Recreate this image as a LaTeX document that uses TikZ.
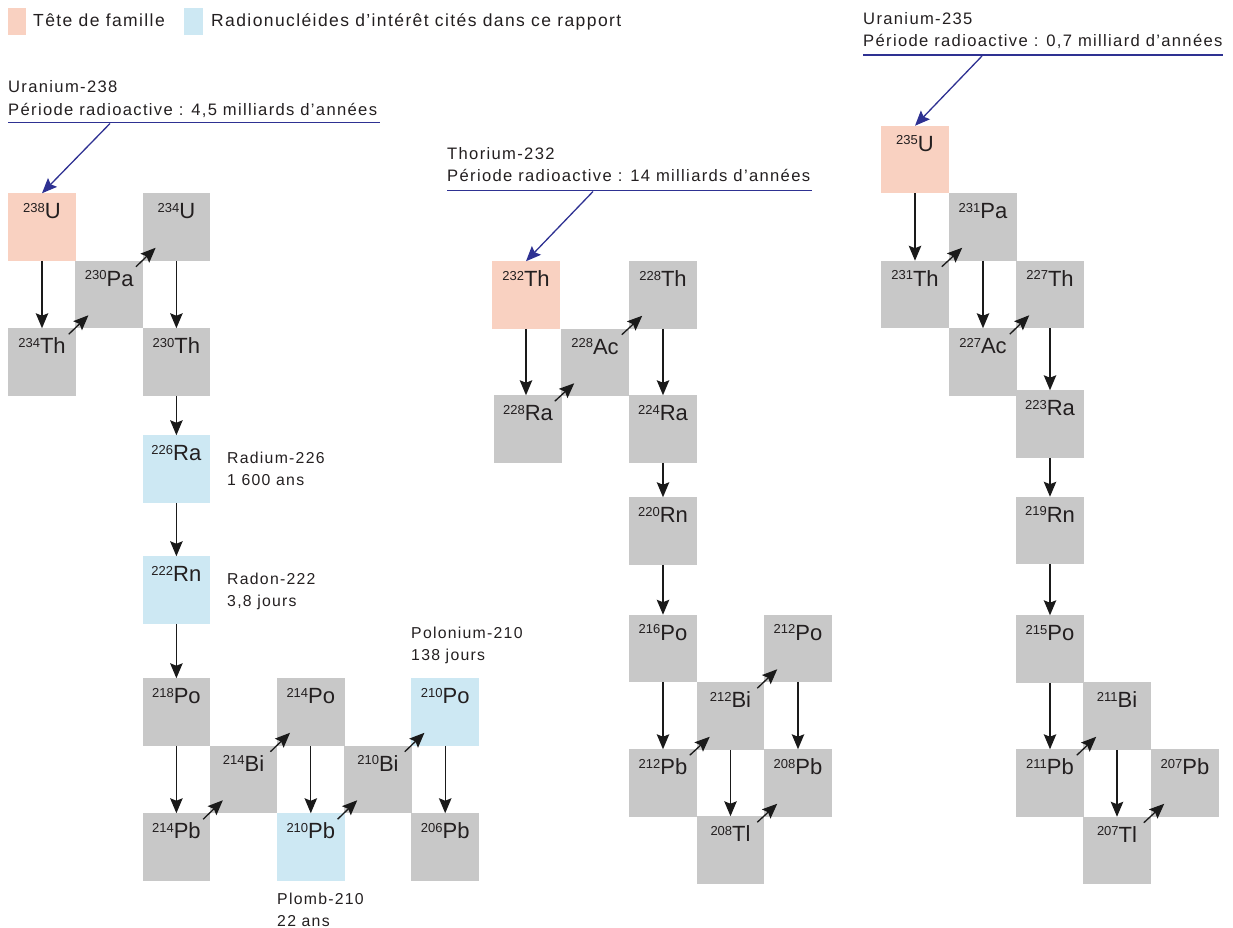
\documentclass[tikz,border=0pt]{standalone}
\usepackage{fontspec}
\setmainfont{Liberation Sans}
\newfontfamily\labfont{Liberation Sans}[LetterSpace=8]
\usetikzlibrary{arrows.meta}
\definecolor{nucgray}{HTML}{C8C8C8}
\definecolor{headpink}{HTML}{F9D1C1}
\definecolor{intblue}{HTML}{CDE8F3}
\definecolor{navy}{HTML}{2E3192}
\definecolor{txt}{HTML}{231F20}
\definecolor{arrblack}{HTML}{1A1A1A}
\newcommand{\nuc}[2]{\raisebox{6.4pt}{\fontsize{13}{13}\selectfont #1}#2}
\newcommand{\arrdown}[2]{\draw[dec] (#1.south) -- (#1.south |- #2.north);}
\newcommand{\arrdiag}[2]{\draw[dec] ([shift={(-7,6)}]#1.north east) -- ([shift={(13,-13)}]#2.south west);}
\tikzset{
  nucbox/.style={minimum width=67.5pt, minimum height=67.5pt, inner sep=0pt, outer sep=0pt,
    text height=17pt, text depth=33.5pt, font=\fontsize{22}{22}\selectfont, text=txt, fill=nucgray},
  headbox/.style={nucbox, fill=headpink},
  intbox/.style={nucbox, fill=intblue},
  dec/.style={-{Stealth[length=15pt,width=12.5pt,inset=2.5pt]}, line width=1.3pt, draw=arrblack},
  ptr/.style={-{Stealth[length=15pt,width=12.5pt,inset=2.5pt]}, line width=1.3pt, draw=navy},
  lab/.style={anchor=base west, inner sep=0pt, font=\labfont\fontsize{15.8}{15.8}\selectfont, text=txt},
  hdr/.style={anchor=base west, inner sep=0pt, font=\labfont\fontsize{16.6}{16.6}\selectfont, text=txt},
  leg/.style={anchor=base west, inner sep=0pt, font=\labfont\fontsize{17.5}{17.5}\selectfont, text=txt},
  uline/.style={line width=1.3pt, draw=navy}
}
\begin{document}
\begin{tikzpicture}[x=1pt,y=-1pt]
\useasboundingbox (0,0) rectangle (1233,928);

% legend
\node[fill=headpink, minimum width=18pt, minimum height=27pt, inner sep=0pt] (legA) at (17,21.5) {};
\node[leg] (legAt) at (33,27) {Tête de famille};
\node[fill=intblue, minimum width=19pt, minimum height=27pt, inner sep=0pt] (legB) at (193.5,21.5) {};
\node[leg] (legBt) at (211,27) {Radionucléides d’intérêt cités dans ce rapport};

% ===== Uranium-238 family =====
\node[hdr] (h238a) at (8,93) {Uranium-238};
\node[hdr] (h238b) at (8,116) {Période radioactive : 4,5 milliards d’années};
\draw[uline] (8,122.5) -- (380,122.5);
\coordinate (a238) at (110,123.5);

\node[headbox] (u238) at (42,227) {\nuc{238}{U}};
\node[nucbox] (pa230) at (109.2,294.5) {\nuc{230}{Pa}};
\node[nucbox] (u234) at (176.4,227) {\nuc{234}{U}};
\node[nucbox] (th234) at (42,362) {\nuc{234}{Th}};
\node[nucbox] (th230) at (176.4,362) {\nuc{230}{Th}};
\node[intbox] (ra226) at (176.4,469) {\nuc{226}{Ra}};
\node[intbox] (rn222) at (176.4,590) {\nuc{222}{Rn}};
\node[nucbox] (po218) at (176.4,712) {\nuc{218}{Po}};
\node[nucbox] (bi214) at (243.6,779.5) {\nuc{214}{Bi}};
\node[nucbox] (po214) at (310.8,712) {\nuc{214}{Po}};
\node[nucbox] (pb214) at (176.4,847) {\nuc{214}{Pb}};
\node[intbox] (pb210) at (310.8,847) {\nuc{210}{Pb}};
\node[nucbox] (bi210) at (378,779.5) {\nuc{210}{Bi}};
\node[intbox] (po210) at (445.2,712) {\nuc{210}{Po}};
\node[nucbox] (pb206) at (445.2,847) {\nuc{206}{Pb}};

\node[lab] (l226a) at (227,463) {Radium-226};
\node[lab] (l226b) at (227,485) {1 600 ans};
\node[lab] (l222a) at (227,584) {Radon-222};
\node[lab] (l222b) at (227,606) {3,8 jours};
\node[lab] (l210a) at (411,638) {Polonium-210};
\node[lab] (l210b) at (411,660) {138 jours};
\node[lab] (l210c) at (277,904) {Plomb-210};
\node[lab] (l210d) at (277,926) {22 ans};

\draw[ptr] (a238) -- (u238.north);
\arrdown{u238}{th234}
\arrdiag{th234}{pa230}
\arrdiag{pa230}{u234}
\arrdown{u234}{th230}
\arrdown{th230}{ra226}
\arrdown{ra226}{rn222}
\arrdown{rn222}{po218}
\arrdown{po218}{pb214}
\arrdiag{pb214}{bi214}
\arrdiag{bi214}{po214}
\arrdown{po214}{pb210}
\arrdiag{pb210}{bi210}
\arrdiag{bi210}{po210}
\arrdown{po210}{pb206}

% ===== Thorium-232 family =====
\node[hdr] (h232a) at (447,160) {Thorium-232};
\node[hdr] (h232b) at (447,182) {Période radioactive : 14 milliards d’années};
\draw[uline] (447,190.5) -- (812,190.5);
\coordinate (a232) at (593,191.5);

\node[headbox] (th232) at (526,295) {\nuc{232}{Th}};
\node[nucbox] (ac228) at (595,362.5) {\nuc{228}{Ac}};
\node[nucbox] (th228) at (663,295) {\nuc{228}{Th}};
\node[nucbox] (ra228) at (528,429) {\nuc{228}{Ra}};
\node[nucbox] (ra224) at (663,429) {\nuc{224}{Ra}};
\node[nucbox] (rn220) at (663,531) {\nuc{220}{Rn}};
\node[nucbox] (po216) at (663,648.5) {\nuc{216}{Po}};
\node[nucbox] (bi212) at (730.5,716) {\nuc{212}{Bi}};
\node[nucbox] (po212) at (798,648.5) {\nuc{212}{Po}};
\node[nucbox] (pb212) at (663,783) {\nuc{212}{Pb}};
\node[nucbox] (pb208) at (798,783) {\nuc{208}{Pb}};
\node[nucbox] (tl208) at (730.5,850) {\nuc{208}{Tl}};

\draw[ptr] (a232) -- (th232.north);
\arrdown{th232}{ra228}
\arrdiag{ra228}{ac228}
\arrdiag{ac228}{th228}
\arrdown{th228}{ra224}
\arrdown{ra224}{rn220}
\arrdown{rn220}{po216}
\arrdown{po216}{pb212}
\arrdiag{pb212}{bi212}
\arrdiag{bi212}{po212}
\arrdown{bi212}{tl208}
\arrdown{po212}{pb208}
\arrdiag{tl208}{pb208}

% ===== Uranium-235 family =====
\node[hdr] (h235a) at (863,25) {Uranium-235};
\node[hdr] (h235b) at (863,47) {Période radioactive : 0,7 milliard d’années};
\draw[uline] (863,55) -- (1223,55);
\coordinate (a235) at (982,56);

\node[headbox] (u235) at (915,159.5) {\nuc{235}{U}};
\node[nucbox] (pa231) at (983,227) {\nuc{231}{Pa}};
\node[nucbox] (th231) at (915,294.5) {\nuc{231}{Th}};
\node[nucbox] (th227) at (1050,294.5) {\nuc{227}{Th}};
\node[nucbox] (ac227) at (983,362) {\nuc{227}{Ac}};
\node[nucbox] (ra223) at (1050,424) {\nuc{223}{Ra}};
\node[nucbox] (rn219) at (1050,530.5) {\nuc{219}{Rn}};
\node[nucbox] (po215) at (1050,649) {\nuc{215}{Po}};
\node[nucbox] (bi211) at (1117,716) {\nuc{211}{Bi}};
\node[nucbox] (pb211) at (1050,783) {\nuc{211}{Pb}};
\node[nucbox] (pb207) at (1185,783) {\nuc{207}{Pb}};
\node[nucbox] (tl207) at (1117,850.5) {\nuc{207}{Tl}};

\draw[ptr] (a235) -- (u235.north);
\arrdown{u235}{th231}
\arrdiag{th231}{pa231}
\arrdown{pa231}{ac227}
\arrdiag{ac227}{th227}
\arrdown{th227}{ra223}
\arrdown{ra223}{rn219}
\arrdown{rn219}{po215}
\arrdown{po215}{pb211}
\arrdiag{pb211}{bi211}
\arrdown{bi211}{tl207}
\arrdiag{tl207}{pb207}
\end{tikzpicture}
\end{document}
